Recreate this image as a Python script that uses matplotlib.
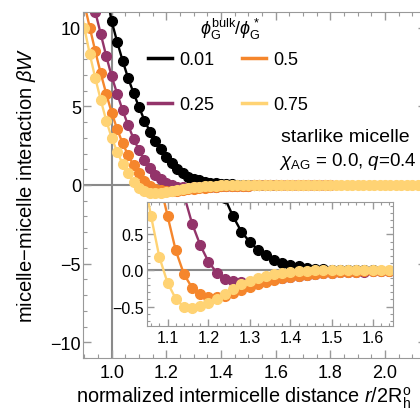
import numpy as np
import matplotlib
matplotlib.use('Agg')
import matplotlib.pyplot as plt
from matplotlib.ticker import MultipleLocator, FixedLocator

plt.rcParams['font.family'] = ['Liberation Sans', 'DejaVu Sans']
plt.rcParams['mathtext.fontset'] = 'custom'
plt.rcParams['mathtext.rm'] = 'Liberation Sans'
plt.rcParams['mathtext.it'] = 'Liberation Sans:italic'
plt.rcParams['axes.unicode_minus'] = True

# ---- data: r / 2R_h^o  vs  beta*W, one list per phi_G^bulk / phi_G^* ----
r_black = [0.98, 1.00, 1.02, 1.04, 1.06, 1.08, 1.10, 1.12, 1.14, 1.16, 1.18, 1.20,
           1.22, 1.24, 1.26, 1.28, 1.30, 1.32, 1.34, 1.36, 1.38, 1.40, 1.42, 1.44,
           1.46, 1.48, 1.50, 1.52, 1.54, 1.56, 1.58, 1.60]
w_black = [12.2, 10.4, 9.1, 7.9, 6.8, 5.85, 4.95, 4.1, 3.4, 2.8, 2.3, 1.8,
           1.4, 1.0, 0.75, 0.54, 0.40, 0.29, 0.21, 0.15, 0.11, 0.08, 0.057, 0.04,
           0.027, 0.017, 0.01, 0.006, 0.004, 0.002, 0.001, 0.0]

r_purple = [0.92, 0.94, 0.96, 0.98, 1.00, 1.02, 1.04, 1.06, 1.08, 1.10, 1.12, 1.14,
            1.16, 1.18, 1.20, 1.22, 1.24, 1.26, 1.28, 1.30, 1.32, 1.34, 1.36, 1.38,
            1.40, 1.42, 1.44, 1.46, 1.48, 1.50, 1.52, 1.54, 1.56, 1.58, 1.60, 1.62,
            1.64, 1.66, 1.68, 1.70, 1.72, 1.74, 1.76, 1.78, 1.80]
w_purple = [13.0, 11.0, 9.6, 8.2, 6.9, 5.8, 4.75, 3.8, 2.95, 2.2, 1.6, 1.05,
            0.65, 0.35, 0.12, -0.03, -0.115, -0.15, -0.16, -0.155, -0.145, -0.13, -0.115, -0.10,
            -0.085, -0.07, -0.06, -0.05, -0.04, -0.033, -0.027, -0.022, -0.018, -0.015, -0.012, -0.01,
            -0.008, -0.006, -0.005, -0.004, -0.003, -0.002, -0.002, -0.001, 0.0]

r_orange = [0.88, 0.90, 0.92, 0.94, 0.96, 0.98, 1.00, 1.02, 1.04, 1.06, 1.08, 1.10,
            1.12, 1.14, 1.16, 1.18, 1.20, 1.22, 1.24, 1.26, 1.28, 1.30, 1.32, 1.34,
            1.36, 1.38, 1.40, 1.42, 1.44, 1.46, 1.48, 1.50, 1.52, 1.54, 1.56, 1.58,
            1.60, 1.62, 1.64, 1.66, 1.68, 1.70, 1.72, 1.74, 1.76, 1.78, 1.80]
w_orange = [13.0, 11.5, 10.0, 8.5, 7.1, 5.8, 4.6, 3.55, 2.65, 1.9, 1.25, 0.76,
            0.28, -0.05, -0.24, -0.33, -0.37, -0.37, -0.35, -0.31, -0.27, -0.23, -0.19, -0.16,
            -0.13, -0.11, -0.09, -0.075, -0.06, -0.05, -0.04, -0.033, -0.027, -0.022, -0.018, -0.014,
            -0.011, -0.009, -0.007, -0.005, -0.004, -0.003, -0.002, -0.002, -0.001, -0.001, 0.0]

r_yellow = [0.88, 0.90, 0.92, 0.94, 0.96, 0.98, 1.00, 1.02, 1.04, 1.06, 1.08, 1.10,
            1.12, 1.14, 1.16, 1.18, 1.20, 1.22, 1.24, 1.26, 1.28, 1.30, 1.32, 1.34,
            1.36, 1.38, 1.40, 1.42, 1.44, 1.46, 1.48, 1.50, 1.52, 1.54, 1.56, 1.58,
            1.60, 1.62, 1.64, 1.66, 1.68, 1.70, 1.72, 1.74, 1.76, 1.78, 1.80, 1.82,
            1.84, 1.86, 1.88, 1.90, 1.92, 1.94, 1.96, 1.98, 2.00, 2.02, 2.04, 2.06,
            2.08, 2.10, 2.12, 2.14, 2.16]
w_yellow = [11.8, 10.0, 8.3, 6.8, 5.4, 4.1, 3.0, 2.1, 1.35, 0.75, 0.19, -0.17,
            -0.39, -0.51, -0.52, -0.49, -0.45, -0.39, -0.32, -0.25, -0.19, -0.14, -0.10, -0.07,
            -0.05, -0.035, -0.022, -0.012, -0.005, 0.0, 0.004, 0.006, 0.007, 0.007, 0.007, 0.006,
            0.006, 0.005, 0.005, 0.004, 0.004, 0.003, 0.003, 0.003, 0.002, 0.002, 0.002, 0.002,
            0.001, 0.001, 0.001, 0.001, 0.001, 0.001, 0.0, 0.0, 0.0, 0.0, 0.0, 0.0,
            0.0, 0.0, 0.0, 0.0, 0.0]

labels = ['0.01', '0.25', '0.5', '0.75']
colors = ['#000000', '#93346a', '#f5862c', '#ffd374']
series = [(r_black, w_black), (r_purple, w_purple), (r_orange, w_orange), (r_yellow, w_yellow)]

GRAY = '#8a8a8a'
SPINE = '#999999'

W, H = 420, 410
fig = plt.figure(figsize=(W / 100, H / 100), dpi=100)

# main axes, right edge runs off the canvas like the reference
ax = fig.add_axes([83 / W, (H - 359) / H, 343 / W, 346 / H])
ax.set_xlim(0.895, 2.15)
ax.set_ylim(-11, 11)
ax.axvline(1.0, color=GRAY, lw=1.5, zorder=1)
ax.axhline(0.0, color=GRAY, lw=1.5, zorder=1)
for (rr, ww), c in zip(series, colors):
    ax.plot(rr, ww, '-o', color=c, lw=1.7, ms=7, mec=c, zorder=2)

ax.xaxis.set_major_locator(FixedLocator([1.0, 1.2, 1.4, 1.6, 1.8, 2.0]))
ax.xaxis.set_minor_locator(MultipleLocator(0.05))
ax.yaxis.set_major_locator(MultipleLocator(5))
ax.yaxis.set_minor_locator(MultipleLocator(1))
ax.xaxis.set_major_formatter(plt.FuncFormatter(lambda v, p: f'{v:.1f}'))
ax.yaxis.set_major_formatter(plt.FuncFormatter(lambda v, p: f'{v:.0f}'.replace('-', '\u2212')))
ax.tick_params(which='both', direction='in', top=True, right=True, color=SPINE, labelsize=13)
ax.tick_params(which='major', length=6, width=1)
ax.tick_params(which='minor', length=3, width=0.8)
ax.tick_params(axis='y', pad=1.5)
ax.tick_params(axis='x', pad=4)
for s in ax.spines.values():
    s.set_color(SPINE)

fig.text(244 / W, 1 - 398 / H, r'normalized intermicelle distance $r/2\mathrm{R}_\mathrm{h}^\mathrm{o}$',
         ha='center', va='center', fontsize=14.3)
fig.text(27 / W, 1 - 185 / H, r'micelle$-$micelle interaction $\beta W$', rotation=90,
         ha='center', va='center', fontsize=14.5)

# legend: title drawn as its own text, entries in two columns
fig.text(230 / W, 1 - 29 / H, r'$\phi_\mathrm{G}^\mathrm{bulk}/\phi_\mathrm{G}^*$',
         ha='center', va='center', fontsize=13)
handles = [plt.Line2D([], [], color=c, lw=2.5) for c in colors]
leg = ax.legend(handles, labels, ncol=2, frameon=False, fontsize=13,
                handlelength=1.35, handletextpad=0.4, columnspacing=1.5, labelspacing=1.55,
                borderpad=0, borderaxespad=0, loc='upper left', bbox_to_anchor=(148 / W, 1 - 52 / H),
                bbox_transform=fig.transFigure)

fig.text(410 / W, 1 - 137 / H, 'starlike micelle', ha='right', va='center', fontsize=14)
fig.text(417 / W, 1 - 162 / H, r'$\chi_\mathrm{AG}$ = 0.0, $q$=0.4', ha='right', va='center', fontsize=13.5)

# inset
axi = fig.add_axes([147 / W, (H - 327) / H, 246 / W, 124 / H])
axi.set_facecolor('white')
axi.set_xlim(1.05, 1.65)
axi.set_ylim(-0.77, 0.95)
axi.axhline(0.0, color=GRAY, lw=1.5, zorder=1)
for (rr, ww), c in zip(series, colors):
    axi.plot(rr, ww, '-o', color=c, lw=1.7, ms=7, mec=c, zorder=2)
axi.xaxis.set_major_locator(MultipleLocator(0.1))
axi.xaxis.set_minor_locator(MultipleLocator(0.02))
axi.yaxis.set_major_locator(MultipleLocator(0.5))
axi.yaxis.set_minor_locator(MultipleLocator(0.1))
axi.xaxis.set_major_formatter(plt.FuncFormatter(lambda v, p: f'{v:.1f}'))
axi.yaxis.set_major_formatter(plt.FuncFormatter(lambda v, p: f'{v:.1f}'.replace('-', '\u2212')))
axi.tick_params(which='both', direction='in', top=True, right=True, color=SPINE, labelsize=11.5)
axi.tick_params(which='major', length=5, width=1)
axi.tick_params(which='minor', length=2.5, width=0.8)
axi.tick_params(axis='y', pad=2.5)
axi.tick_params(axis='x', pad=3)
for s in axi.spines.values():
    s.set_color(SPINE)

fig.savefig('out.png', dpi=100)
